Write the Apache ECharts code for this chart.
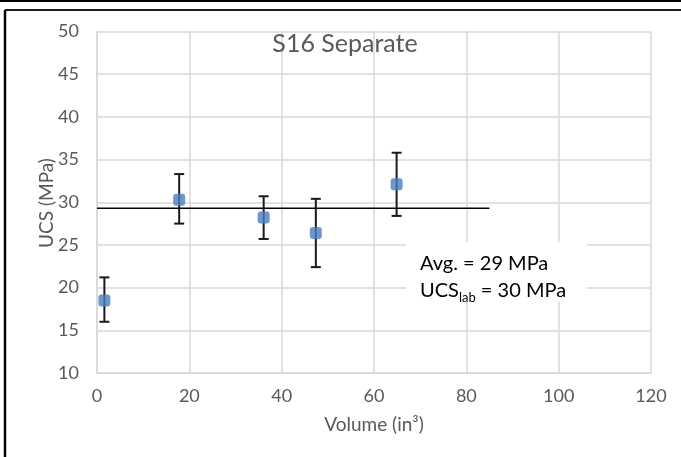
<!DOCTYPE html>
<html>
<head>
<meta charset="utf-8">
<script src="https://cdn.jsdelivr.net/npm/echarts@6/dist/echarts.min.js"></script>
<style>
html,body{margin:0;padding:0;background:#fff;}
#chart{width:681px;height:457px;}
</style>
</head>
<body>
<div id="chart"></div>
<script>
// ---- data ----
const volumes = [1.6, 17.8, 36.1, 47.4, 64.9];
const ucsMean = [18.5, 30.3, 28.2, 26.4, 32.1];
const ucsLow  = [16.0, 27.5, 25.7, 22.4, 28.4];
const ucsHigh = [21.2, 33.3, 30.7, 30.4, 35.8];
const avgLineX = [0, 85];
const avgValue = 29.3;
const xTicks = [0, 20, 40, 60, 80, 100, 120];
const yTicks = [10, 15, 20, 25, 30, 35, 40, 45, 50];
const titleText = 'S16 Separate';
const xName = 'Volume (in\u00B3)';
const yName = 'UCS (MPa)';
const noteLine1 = 'Avg. = 29 MPa';
const noteLine2Main = 'UCS';
const noteLine2Sub = 'lab';
const noteLine2Rest = ' = 30 MPa';

const FONT = 'Lato';
const GRAY = '#595959';

const chart = echarts.init(document.getElementById('chart'), null, {renderer: 'canvas'});

const pointData = volumes.map((v, i) => [v, ucsMean[i]]);
const errData = volumes.map((v, i) => [v, ucsLow[i], ucsHigh[i]]);
const avgData = avgLineX.map(x => [x, avgValue]);

const option = {
  backgroundColor: '#fff',
  animation: false,
  textStyle: {fontFamily: FONT},
  grid: {left: 97, right: 30, top: 31.5, bottom: 84, containLabel: false},
  xAxis: {
    type: 'value',
    min: xTicks[0], max: xTicks[xTicks.length - 1], interval: 20,
    name: xName, nameLocation: 'middle', nameGap: 42,
    nameTextStyle: {color: GRAY, fontSize: 19, fontFamily: FONT},
    axisLine: {show: true, lineStyle: {color: '#d9d9d9', width: 1.5}},
    axisTick: {show: false},
    axisLabel: {color: GRAY, fontSize: 18, fontFamily: FONT, margin: 14},
    splitLine: {show: true, lineStyle: {color: '#d9d9d9', width: 1.5}}
  },
  yAxis: {
    type: 'value',
    min: yTicks[0], max: yTicks[yTicks.length - 1], interval: 5,
    axisLine: {show: true, lineStyle: {color: '#d9d9d9', width: 1.5}},
    axisTick: {show: false},
    axisLabel: {color: GRAY, fontSize: 18, fontFamily: FONT, margin: 18},
    splitLine: {show: true, lineStyle: {color: '#d9d9d9', width: 1.5}}
  },
  series: [
    {
      type: 'line',
      data: avgData,
      symbol: 'none',
      lineStyle: {color: '#000', width: 1.5},
      z: 3
    },
    {
      type: 'custom',
      data: errData,
      z: 4,
      renderItem: function (params, api) {
        const x = api.value(0);
        const lo = api.coord([x, api.value(1)]);
        const hi = api.coord([x, api.value(2)]);
        const hw = 5;
        const style = {stroke: '#1a1a1a', lineWidth: 2};
        return {
          type: 'group',
          children: [
            {type: 'line', shape: {x1: lo[0], y1: lo[1], x2: hi[0], y2: hi[1]}, style: style},
            {type: 'line', shape: {x1: lo[0] - hw, y1: lo[1], x2: lo[0] + hw, y2: lo[1]}, style: style},
            {type: 'line', shape: {x1: hi[0] - hw, y1: hi[1], x2: hi[0] + hw, y2: hi[1]}, style: style}
          ]
        };
      }
    },
    {
      type: 'scatter',
      data: pointData,
      symbol: 'roundRect',
      symbolSize: 12,
      itemStyle: {color: '#4a7ebf'},
      z: 5
    }
  ],
  graphic: [
    // outer frame lines
    {type: 'line', shape: {x1: 0, y1: 1, x2: 681, y2: 1}, style: {stroke: '#000', lineWidth: 2}, z: 100},
    {type: 'line', shape: {x1: 5, y1: 10, x2: 681, y2: 10}, style: {stroke: '#1a1a1a', lineWidth: 2}, z: 100},
    {type: 'line', shape: {x1: 5, y1: 10, x2: 5, y2: 457}, style: {stroke: '#000', lineWidth: 2.5}, z: 100},
    // title
    {
      type: 'text', x: 345, y: 44, z: 100,
      style: {text: titleText, fill: GRAY, font: '25px ' + FONT, textAlign: 'center', textVerticalAlign: 'middle'}
    },
    // y-axis name
    {
      type: 'text', x: 47, y: 203, rotation: Math.PI / 2, z: 100,
      style: {text: yName, fill: GRAY, font: '19px ' + FONT, textAlign: 'center', textVerticalAlign: 'middle'}
    },
    // annotation box
    {
      type: 'rect', shape: {x: 406, y: 242, width: 181, height: 60}, z: 90,
      style: {fill: '#fff'}
    },
    {
      type: 'text', x: 420, y: 250, z: 100,
      style: {
        text: '{a|' + noteLine1 + '}\n{a|' + noteLine2Main + '}{s|' + noteLine2Sub + '}{a|' + noteLine2Rest + '}',
        rich: {
          a: {fontFamily: FONT, fontSize: 20, color: '#000', lineHeight: 27, verticalAlign: 'middle'},
          s: {fontFamily: FONT, fontSize: 13, color: '#000', lineHeight: 27, verticalAlign: 'bottom'}
        }
      }
    }
  ]
};
chart.setOption(option);
</script>
</body>
</html>
